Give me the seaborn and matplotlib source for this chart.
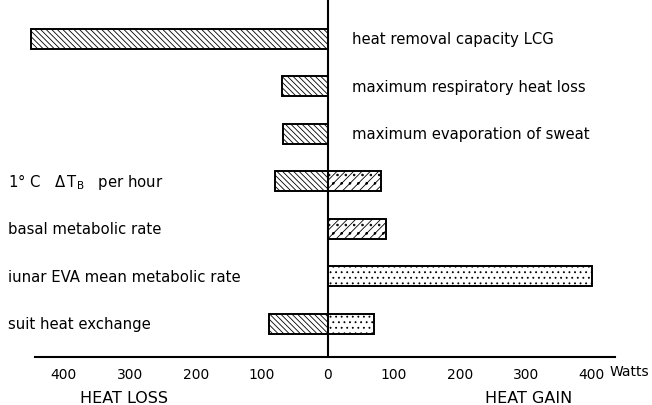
import matplotlib
matplotlib.use("Agg")
import matplotlib.pyplot as plt
import matplotlib.transforms as mtransforms
import numpy as np
import pandas as pd
import seaborn as sns

# Heat balance items (Watts): loss to the left, gain to the right
items = [
    "heat removal capacity LCG",
    "maximum respiratory heat loss",
    "maximum evaporation of sweat",
    "1° C   $\\Delta\\,$T$_{\\mathregular{B}}$   per hour",
    "basal metabolic rate",
    "iunar EVA mean metabolic rate",
    "suit heat exchange",
]
heat_loss = [450, 70, 68, 80, 0, 0, 90]
heat_gain = [0, 0, 0, 80, 88, 400, 70]
tick_values = [-400, -300, -200, -100, 0, 100, 200, 300, 400]

gain_hatches = ["", "", "", "////..", "////..", "...", "..."]

sns.set_theme(style="white")
plt.rcParams["hatch.linewidth"] = 0.6
plt.rcParams["font.family"] = ["DejaVu Sans"]
plt.rcParams["text.color"] = "black"
plt.rcParams["xtick.color"] = "black"

df = pd.DataFrame({"item": items, "loss": [-v for v in heat_loss], "gain": heat_gain})

W, H = 652, 406
fig = plt.figure(figsize=(W / 100, H / 100), dpi=100)
ax = fig.add_axes([25 / W, (H - 358) / H, (615 - 25) / W, 358 / H])

sns.barplot(data=df, x="loss", y="item", orient="h", color="white", edgecolor="black",
            linewidth=1.4, width=0.42, ax=ax, saturation=1)
n = len(items)
for p in ax.patches[:n]:
    p.set_hatch("\\\\\\\\\\\\")
sns.barplot(data=df, x="gain", y="item", orient="h", color="white", edgecolor="black",
            linewidth=1.4, width=0.42, ax=ax, saturation=1)
for p, h in zip(ax.patches[n:], gain_hatches):
    p.set_hatch(h)

ax.set_xlim(-459, 435)
ax.set_ylim(n - 1 + 0.695, -0.84)
ax.axvline(0, color="black", lw=1.5, zorder=5)

for s in ["top", "right", "left"]:
    ax.spines[s].set_visible(False)
ax.spines["bottom"].set_color("black")
ax.spines["bottom"].set_linewidth(1.5)
ax.spines["bottom"].set_bounds(-444, 435)

ax.set_xticks(tick_values)
ax.set_xticklabels([str(abs(v)) for v in tick_values], fontsize=10, color="black")
ax.tick_params(axis="x", direction="in", length=4, width=1.2, color="black", pad=7)
ax.set_yticks([])
ax.set_xlabel("")
ax.set_ylabel("")

# item labels: right of the axis for pure losses, at the left margin otherwise
trans = mtransforms.blended_transform_factory(fig.transFigure, ax.transData)
for i, (name, g) in enumerate(zip(items, heat_gain)):
    x = 352 / W if g == 0 else 8 / W
    ax.text(x, i, name, transform=trans, ha="left", va="center", fontsize=10.7,
            color="black")

fig.text(610 / W, (H - 372) / H, "Watts", ha="left", va="center", fontsize=10)
fig.text(124 / W, (H - 399) / H, "HEAT LOSS", ha="center", va="center", fontsize=11.5)
fig.text(529 / W, (H - 399) / H, "HEAT GAIN", ha="center", va="center", fontsize=11.5)

fig.savefig("out.png", dpi=100)
